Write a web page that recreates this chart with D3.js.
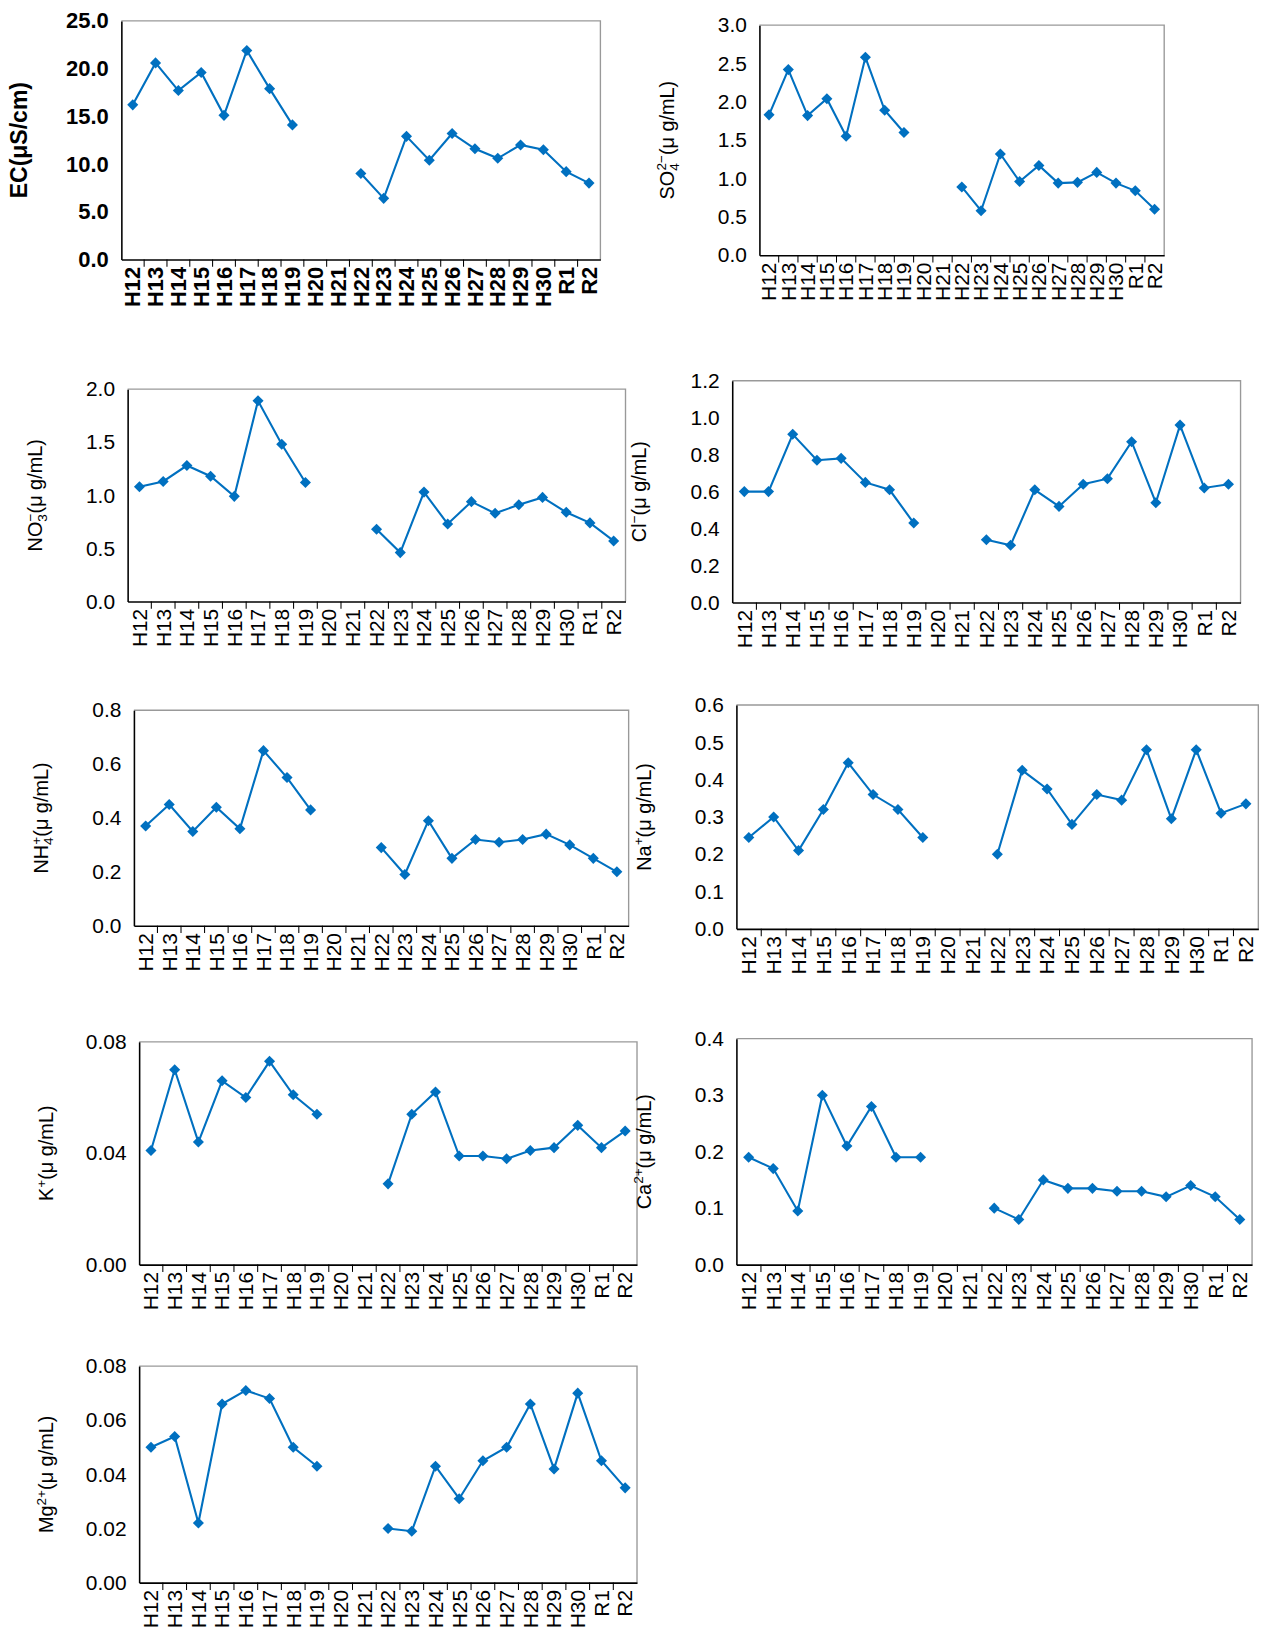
<!DOCTYPE html>
<html><head><meta charset="utf-8">
<script src="https://cdn.jsdelivr.net/npm/d3@7"></script>
<style>body{margin:0;background:#fff}</style>
</head><body>
<svg id="c" width="1266" height="1639"></svg>
<script>
const cats = ["H12","H13","H14","H15","H16","H17","H18","H19","H20","H21","H22","H23","H24","H25","H26","H27","H28","H29","H30","R1","R2"];
const N = null;
const ec  = [16.2,20.6,17.7,19.6,15.1,21.9,17.9,14.1,N,N,9.0,6.4,12.9,10.4,13.2,11.6,10.6,12.0,11.5,9.2,8.0];
const so4 = [1.83,2.42,1.82,2.04,1.55,2.58,1.89,1.60,N,N,0.89,0.58,1.32,0.96,1.17,0.94,0.95,1.08,0.94,0.84,0.60];
const no3 = [1.08,1.13,1.28,1.18,0.99,1.89,1.48,1.12,N,N,0.68,0.46,1.03,0.73,0.94,0.83,0.91,0.98,0.84,0.74,0.57];
const cl  = [0.60,0.60,0.91,0.77,0.78,0.65,0.61,0.43,N,N,0.34,0.31,0.61,0.52,0.64,0.67,0.87,0.54,0.96,0.62,0.64];
const nh4 = [0.37,0.45,0.35,0.44,0.36,0.65,0.55,0.43,N,N,0.29,0.19,0.39,0.25,0.32,0.31,0.32,0.34,0.30,0.25,0.20];
const na  = [0.245,0.30,0.21,0.32,0.445,0.36,0.32,0.245,N,N,0.20,0.425,0.375,0.28,0.36,0.345,0.48,0.295,0.48,0.31,0.335];
const k   = [0.041,0.070,0.044,0.066,0.060,0.073,0.061,0.054,N,N,0.029,0.054,0.062,0.039,0.039,0.038,0.041,0.042,0.050,0.042,0.048];
const ca  = [0.19,0.17,0.095,0.30,0.21,0.28,0.19,0.19,N,N,0.10,0.08,0.15,0.135,0.135,0.13,0.13,0.12,0.14,0.12,0.08];
const mg  = [0.050,0.054,0.022,0.066,0.071,0.068,0.050,0.043,N,N,0.020,0.019,0.043,0.031,0.045,0.050,0.066,0.042,0.070,0.045,0.035];

const root = d3.select("#c").append("g").attr("transform","scale(1.046)");
const blue = "#0070C0";

const panels = [
  {v:ec,  x0:116,x1:574, y0:20,  y1:248, max:25, step:5,  fmt:".1f", bold:true, label:[["EC(μS/cm)",null]]},
  {v:so4, x0:726,x1:1113,y0:24,  y1:244, max:3,  step:0.5,fmt:".1f", label:[["SO",null],["4","sub"],["2−","sup2"],["(μ g/mL)","back"]]},
  {v:no3, x0:122,x1:598, y0:372, y1:575, max:2,  step:0.5,fmt:".1f", label:[["NO",null],["3","sub"],["−","sup2"],["(μ g/mL)","back"]]},
  {v:cl,  x0:700,x1:1186,y0:364, y1:576, max:1.2,step:0.2,fmt:".1f", label:[["Cl",null],["−","sup"],["(μ g/mL)","back"]]},
  {v:nh4, x0:128,x1:601, y0:679, y1:885, max:0.8,step:0.2,fmt:".1f", label:[["NH",null],["4","sub"],["+","sup2"],["(μ g/mL)","back"]]},
  {v:na,  x0:704,x1:1203,y0:674, y1:888, max:0.6,step:0.1,fmt:".1f", label:[["Na",null],["+","sup"],["(μ g/mL)","back"]]},
  {v:k,   x0:133,x1:609, y0:996, y1:1209,max:0.08,step:0.04,fmt:".2f",label:[["K",null],["+","sup"],["(μ g/mL)","back"]]},
  {v:ca,  x0:704,x1:1197,y0:993, y1:1209,max:0.4,step:0.1,fmt:".1f", label:[["Ca",null],["2+","sup"],["(μ g/mL)","back"]]},
  {v:mg,  x0:133,x1:609, y0:1306,y1:1513,max:0.08,step:0.02,fmt:".2f",label:[["Mg",null],["2+","sup"],["(μ g/mL)","back"]]}
];

panels.forEach(p => {
  const font = p.bold ? "Liberation Sans, Arial, sans-serif" : "Liberation Sans Narrow, Liberation Sans, sans-serif";
  const fw = p.bold ? "bold" : "normal";
  const x = d3.scaleBand().domain(cats).range([p.x0, p.x1]);
  const y = d3.scaleLinear().domain([0, p.max]).range([p.y1, p.y0]);
  const g = root.append("g");
  g.append("path").attr("d", `M${p.x0},${p.y0}H${p.x1}V${p.y1}`).attr("fill","none").attr("stroke","#999").attr("stroke-width",1.3);
  const ticks = d3.range(0, p.max + p.step/2, p.step);
  const ya = g.append("g").attr("transform",`translate(${p.x0},0)`)
    .call(d3.axisLeft(y).tickValues(ticks).tickFormat(d3.format(p.fmt)).tickSize(0).tickPadding(12));
  ya.select(".domain").attr("stroke","#000").attr("stroke-width",1.5);
  ya.selectAll("text").attr("font-family",font).attr("font-weight",fw).attr("font-size",p.bold?21:20).attr("fill","#000");
  const xa = g.append("g").attr("transform",`translate(0,${p.y1})`)
    .call(d3.axisBottom(x).tickSize(0).tickPadding(0));
  xa.select(".domain").attr("stroke","#000").attr("stroke-width",1.5);
  xa.selectAll("text").attr("font-family",font).attr("font-weight",fw).attr("font-size",p.bold?21:20).attr("fill","#000")
    .attr("transform","rotate(-90)").attr("text-anchor","end").attr("dx","-7px").attr("dy","0.35em").attr("y",0).attr("x",0);
  g.selectAll(".sep").data(cats.slice(1)).join("line")
    .attr("x1",d=>x(d)).attr("x2",d=>x(d)).attr("y1",p.y1).attr("y2",p.y1+7).attr("stroke","#000").attr("stroke-width",1);
  const pts = p.v.map((v,i)=>({c:cats[i],v}));
  g.append("path").datum(pts).attr("fill","none").attr("stroke",blue).attr("stroke-width",2)
    .attr("d", d3.line().defined(d=>d.v!==null).x(d=>x(d.c)+x.bandwidth()/2).y(d=>y(d.v)));
  g.selectAll(".pt").data(pts.filter(d=>d.v!==null)).join("path")
    .attr("d", d3.symbol(d3.symbolSquare, 56))
    .attr("transform", d=>`translate(${x(d.c)+x.bandwidth()/2},${y(d.v)}) rotate(45)`)
    .attr("fill",blue);
  const lx = p.x0 - (p.bold ? 90 : 82), ly = (p.y0+p.y1)/2;
  const t = g.append("text").attr("transform",`translate(${lx},${ly}) rotate(-90)`).attr("text-anchor","middle")
    .attr("font-family", p.bold ? font : "Liberation Sans, sans-serif").attr("font-weight",fw).attr("font-size",p.bold?22:19);
  p.label.forEach(([s,kind]) => {
    const ts = t.append("tspan").text(s);
    if (kind==="sub") ts.attr("font-size",13).attr("dy","5");
    else if (kind==="sup") ts.attr("font-size",13).attr("dy","-7");
    else if (kind==="sup2") ts.attr("font-size",13).attr("dy","-12").attr("dx","-7");
    else if (kind==="back") ts.attr("dy","7");
  });
});
</script>
</body></html>
